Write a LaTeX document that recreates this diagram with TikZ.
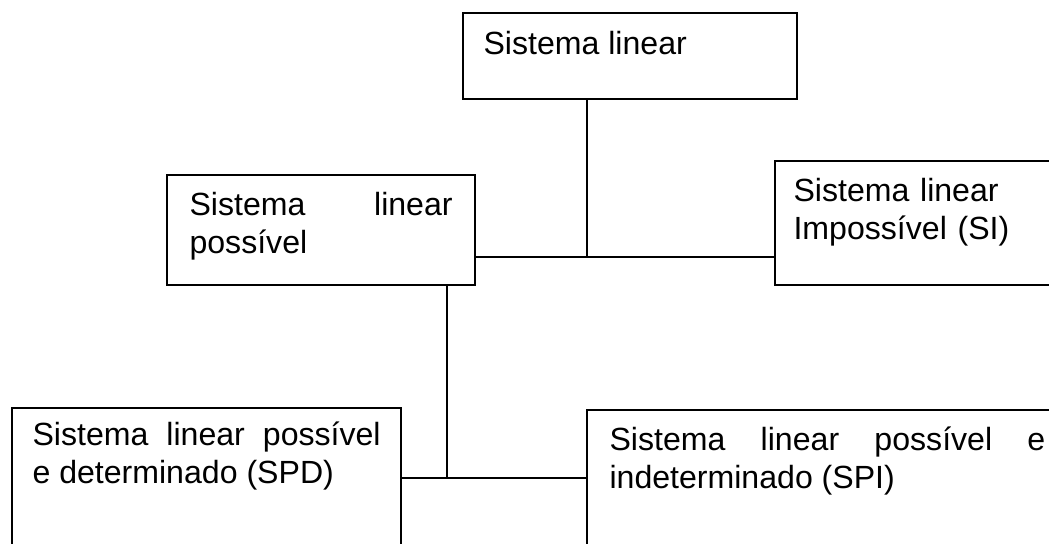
\documentclass[tikz,border=0pt]{standalone}
\usepackage{fontspec}
\setmainfont{Liberation Sans}
\usepackage{tikz}
\usetikzlibrary{positioning,fit}
\hyphenpenalty=10000
\exhyphenpenalty=10000

\begin{document}
\begin{tikzpicture}[x=0.374pt,y=-0.374pt, blk/.style={draw,line width=0.6pt,inner sep=0pt},con/.style={line width=0.6pt},txt/.style={anchor=north west,inner sep=0pt,font=\fontsize{12}{14.2}\selectfont,execute at begin node=\rule{0pt}{12pt}}]
              \useasboundingbox (0,0) rectangle (1049,543);
              \clip (0,0) rectangle (1049,543);

              \node[blk,fit={(463,13) (797,99)}] (sl) {};
              \node[blk,fit={(167,175) (475,285)}] (slp) {};
              \node[blk,fit={(775,161) (1065,285)}] (sli) {};
              \node[blk,fit={(12,408) (401,560)}] (spd) {};
              \node[blk,fit={(587,410) (1065,560)}] (spi) {};

              \node[txt,align=left] (slt) at (483,22) {Sistema linear};
              \node[txt,text width=98.4pt,align=justify] (slpt) at (189,183) {Sistema linear possível};
              \node[txt,text width=84pt,align=left] (slit) at (793,169) {Sistema linear Impossível (SI)};
              \node[txt,text width=130.2pt,align=justify] (spdt) at (32,413) {Sistema linear possível\linebreak e determinado (SPD)};
              \node[txt,text width=163pt,align=justify] (spit) at (609,418) {Sistema linear possível e indeterminado (SPI)};

              \coordinate (j1) at (587,257);
              \coordinate (j2) at (447,478);
              \draw[con] (sl.south -| j1) -- (j1);
              \draw[con] (slp.east |- j1) -- (sli.west |- j1);
              \draw[con] (slp.south -| j2) -- (j2);
              \draw[con] (spd.east |- j2) -- (spi.west |- j2);
            \end{tikzpicture}
\end{document}
